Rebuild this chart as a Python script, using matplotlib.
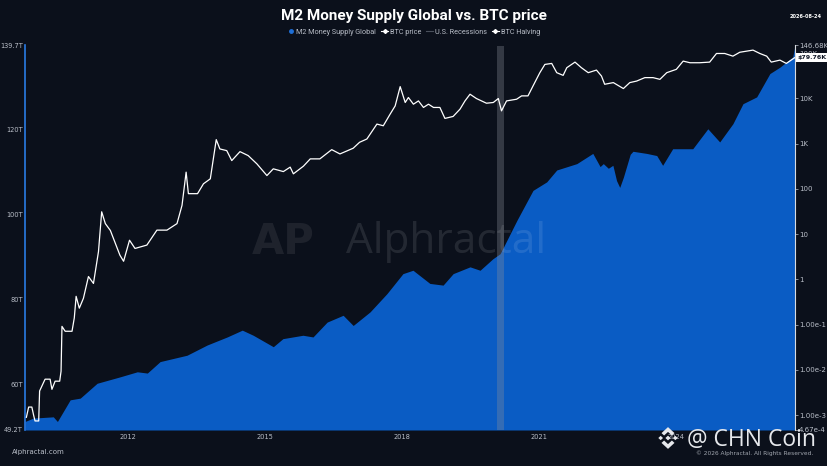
import numpy as np
import matplotlib.pyplot as plt
from matplotlib.lines import Line2D
from matplotlib.patches import Polygon
from matplotlib.ticker import FixedLocator, NullLocator

# M2 money supply global (trillions USD)
m2_years = [2009.74, 2009.92, 2010.36, 2010.45, 2010.73, 2010.95, 2011.32, 2011.82,
            2012.20, 2012.42, 2012.70, 2013.29, 2013.73, 2014.17, 2014.50, 2014.74,
            2015.18, 2015.39, 2015.83, 2016.05, 2016.36, 2016.71, 2016.93, 2017.30,
            2017.67, 2018.02, 2018.24, 2018.61, 2018.90, 2019.12, 2019.49, 2019.71,
            2019.99, 2020.15, 2020.52, 2020.87, 2021.17, 2021.39, 2021.83, 2022.18,
            2022.34, 2022.41, 2022.52, 2022.62, 2022.70, 2022.77, 2022.85, 2023.00,
            2023.06, 2023.36, 2023.58, 2023.71, 2023.93,
            2024.37, 2024.70, 2024.96, 2025.25, 2025.47, 2025.77, 2026.06, 2026.28,
            2026.56, 2026.61]
m2_values = [51.2, 52.0, 52.3, 51.2, 56.3, 56.7, 60.2, 61.7,
             62.9, 62.6, 65.3, 66.8, 69.2, 71.1, 72.7, 71.5,
             68.8, 70.7, 71.5, 71.1, 74.6, 76.2, 73.8, 77.0,
             81.3, 86.0, 86.8, 83.7, 83.3, 86.0, 87.6, 86.8,
             89.5, 90.7, 98.6, 105.6, 107.6, 110.4, 111.9, 114.3,
             111.2, 111.9, 110.8, 111.5, 107.9, 106.3, 108.7, 114.1,
             114.8, 114.3, 113.8, 111.5, 115.4,
             115.4, 120.1, 117.0, 121.3, 126.0, 127.6, 133.1, 134.6,
             137.0, 139.7]

# BTC price (USD)
btc_years = [2009.77, 2009.82, 2009.89, 2009.93, 2009.96, 2010.04, 2010.06, 2010.18,
             2010.29, 2010.33, 2010.40, 2010.50, 2010.53, 2010.55, 2010.62, 2010.77,
             2010.82, 2010.86, 2010.93, 2011.02, 2011.13, 2011.24, 2011.35, 2011.42,
             2011.50, 2011.61, 2011.72,
             2011.82, 2011.90, 2012.03, 2012.15, 2012.41, 2012.63, 2012.85, 2013.07,
             2013.18, 2013.27, 2013.32, 2013.52, 2013.65, 2013.80, 2013.93, 2014.01,
             2014.16, 2014.27, 2014.45, 2014.63, 2014.82, 2015.04, 2015.18, 2015.40,
             2015.55, 2015.62, 2015.84, 2015.99, 2016.20, 2016.46, 2016.64, 2016.93,
             2017.07, 2017.23, 2017.45, 2017.59, 2017.74, 2017.85, 2017.96,
             2018.07, 2018.14, 2018.25, 2018.36, 2018.47, 2018.58, 2018.69, 2018.83,
             2018.94, 2019.12, 2019.27, 2019.38, 2019.49, 2019.63, 2019.85, 2020.00,
             2020.11, 2020.18, 2020.29, 2020.51, 2020.62, 2020.76, 2020.87, 2021.02,
             2021.13, 2021.28, 2021.39, 2021.53, 2021.61, 2021.79, 2021.93, 2022.08,
             2022.26, 2022.37, 2022.44, 2022.63, 2022.85, 2022.99, 2023.14, 2023.32,
             2023.50, 2023.65, 2023.80, 2024.01, 2024.16, 2024.31, 2024.52, 2024.74,
             2024.89, 2025.07, 2025.25, 2025.40, 2025.69, 2025.84, 2025.99, 2026.09,
             2026.28, 2026.42, 2026.61]
btc_prices = [0.00089, 0.0015, 0.0015, 0.00098, 0.00074, 0.00074, 0.0034, 0.0062,
              0.0062, 0.0037, 0.0056, 0.0056, 0.0093, 0.091, 0.071, 0.071,
              0.14, 0.42, 0.23, 0.38, 1.15, 0.81, 4.1, 31,
              17, 12, 6.2,
              3.4, 2.5, 7.3, 4.8, 5.7, 12.2, 12.2, 17,
              43, 233, 78, 78, 129, 166, 1220, 759,
              697, 420, 662, 541, 356, 196, 276, 240,
              301, 214, 316, 458, 458, 733, 589, 787,
              1065, 1259, 2690, 2470, 4470, 6790, 18100,
              8070, 10400, 7400, 8750, 6270, 7400, 6270, 6270,
              3590, 3970, 5740, 8750, 12300, 9880, 7780, 8070,
              9880, 5270, 8750, 9530, 11300, 11300, 18700, 36800,
              56000, 58900, 36800, 32100, 47400, 63000, 47400, 36800,
              42000, 31000, 20400, 22200, 16400, 22200, 24000, 28600,
              28600, 26200, 36800, 43600, 66300, 61000, 61000, 63000,
              97700, 97700, 85300, 104000, 116000, 97700, 85300, 63000,
              69700, 58900, 79760]

recession = (2020.08, 2020.24)

left_ticks = [49.2, 60, 80, 100, 120, 139.7]
left_labels = ['49.2T', '60T', '80T', '100T', '120T', '139.7T']
right_ticks = [4.67e-4, 1e-3, 1e-2, 1e-1, 1, 10, 100, 1e3, 1e4, 1e5, 146680]
right_labels = ['4.67e-4', '1.00e-3', '1.00e-2', '1.00e-1', '1', '10', '100',
                '1K', '10K', '100K', '146.68K']
year_ticks = [2012, 2015, 2018, 2021, 2024]

bg = '#0b101b'
blue = '#0a5cc4'
grey = '#b9bec8'
narrow = ['Liberation Sans Narrow', 'Roboto', 'DejaVu Sans']

fig = plt.figure(figsize=(8.28, 4.66), dpi=100, facecolor=bg)
ax = fig.add_axes([25/828, 1 - 430/466, 770/828, 384.5/466])
ax.set_facecolor(bg)

ax.fill_between(m2_years, m2_values, 49.2, color=blue, lw=0, zorder=2)
ax.set_ylim(49.2, 139.7)
ax.set_xlim(2009.74, 2026.61)

ax2 = ax.twinx()
ax2.plot(btc_years, btc_prices, color='white', lw=0.9, zorder=3)
ax2.set_yscale('log')
ax2.set_ylim(4.67e-4, 146680)
ax2.axvspan(*recession, color='#8a8f99', alpha=0.33, lw=0, zorder=1)

# axes styling
ax.yaxis.set_major_locator(FixedLocator(left_ticks))
ax.set_yticklabels(left_labels)
ax.set_xticks(year_ticks)
ax.set_xticklabels([str(y) for y in year_ticks])
ax.tick_params(axis='both', length=0, labelsize=4.8, colors=grey, pad=3)
ax.tick_params(axis='y', pad=1.5)

ax2.yaxis.set_major_locator(FixedLocator(right_ticks))
ax2.yaxis.set_minor_locator(NullLocator())
ax2.set_yticklabels(right_labels)
ax2.tick_params(axis='y', length=2, width=0.5, labelsize=5, colors=grey, pad=1)

for a in (ax, ax2):
    for s in a.spines.values():
        s.set_visible(False)
ax2.spines['left'].set_visible(True)
ax2.spines['left'].set_color('#2a7be4')
ax2.spines['left'].set_linewidth(1.2)
ax2.spines['right'].set_visible(True)
ax2.spines['right'].set_color('#d8dbe0')
ax2.spines['right'].set_linewidth(0.8)

# last price tag
ax2.annotate('$79.76K', xy=(1.0, btc_prices[-1]), xycoords=('axes fraction', 'data'),
             xytext=(2, 0), textcoords='offset points', va='center', ha='left',
             fontsize=4.6, fontweight='bold', color='#111827',
             bbox=dict(boxstyle='square,pad=0.25', fc='white', ec='none'))

# watermark
ax2.text(0.417, 0.49, 'Alphractal', transform=ax.transAxes, fontsize=30.5,
         color='white', alpha=0.1, ha='left', va='center', family='Open Sans', zorder=4)
ax2.text(0.335, 0.49, 'AP', transform=ax.transAxes, fontsize=30, fontweight='bold',
         color='white', alpha=0.08, ha='center', va='center', zorder=4)

# title, date, legend
fig.text(0.5, 1 - 16/466, 'M2 Money Supply Global vs. BTC price', ha='center', va='center',
         fontsize=11, fontweight='bold', color='white', family=narrow)
fig.text(806/828, 1 - 17/466, '2026-08-24', ha='center', va='center', fontsize=3.6,
         fontweight='bold', color='white')

handles = [
    Line2D([], [], ls='none', marker='o', ms=2.5, color='#1f6fd6'),
    Line2D([], [], ls='-', lw=0.8, marker='D', ms=2, color='white'),
    Line2D([], [], ls='-', lw=0.8, color='#4a505c'),
    Line2D([], [], ls='-', lw=0.8, marker='D', ms=2, color='white'),
]
leg = fig.legend(handles, ['M2 Money Supply Global', 'BTC price', 'U.S. Recessions', 'BTC Halving'],
                 loc='center', bbox_to_anchor=(0.5, 1 - 32/466), ncol=4, frameon=False,
                 handlelength=0.9, handletextpad=0.3, columnspacing=0.7,
                 prop={'family': narrow, 'size': 5.2})
for t in leg.get_texts():
    t.set_color(grey)

# footer
fig.text(12/828, 1 - 452/466, 'Alphractal.com', ha='left', va='center', fontsize=5, color=grey)
fig.text(752/828, 1 - 440/466, '@ CHN Coin', ha='center', va='center', fontsize=16.5,
         color='#e6e8ec', family='Open Sans')
fig.text(755/828, 1 - 453/466, '\u00a9 2026 Alphractal. All Rights Reserved.', ha='center',
         va='center', fontsize=4.2, color='#a0a5ae')

# binance-style logo next to the handle
logo = fig.add_axes([655/828, 1 - 450/466, 26/828, 24/466])
logo.set_xlim(-1.1, 1.1)
logo.set_ylim(-1.1, 1.1)
logo.axis('off')
shapes = [
    [(-0.55, 0.45), (0, 1.0), (0.55, 0.45), (0.33, 0.23), (0, 0.56), (-0.33, 0.23)],
    [(-0.55, -0.45), (0, -1.0), (0.55, -0.45), (0.33, -0.23), (0, -0.56), (-0.33, -0.23)],
    [(0, 0.22), (0.22, 0), (0, -0.22), (-0.22, 0)],
    [(-0.62, 0.2), (-0.42, 0), (-0.62, -0.2), (-0.82, 0)],
    [(0.62, 0.2), (0.82, 0), (0.62, -0.2), (0.42, 0)],
]
for pts in shapes:
    logo.add_patch(Polygon(pts, closed=True, fc='#e6e8ec', ec='none'))

fig.savefig('out.png', dpi=100, facecolor=bg)
